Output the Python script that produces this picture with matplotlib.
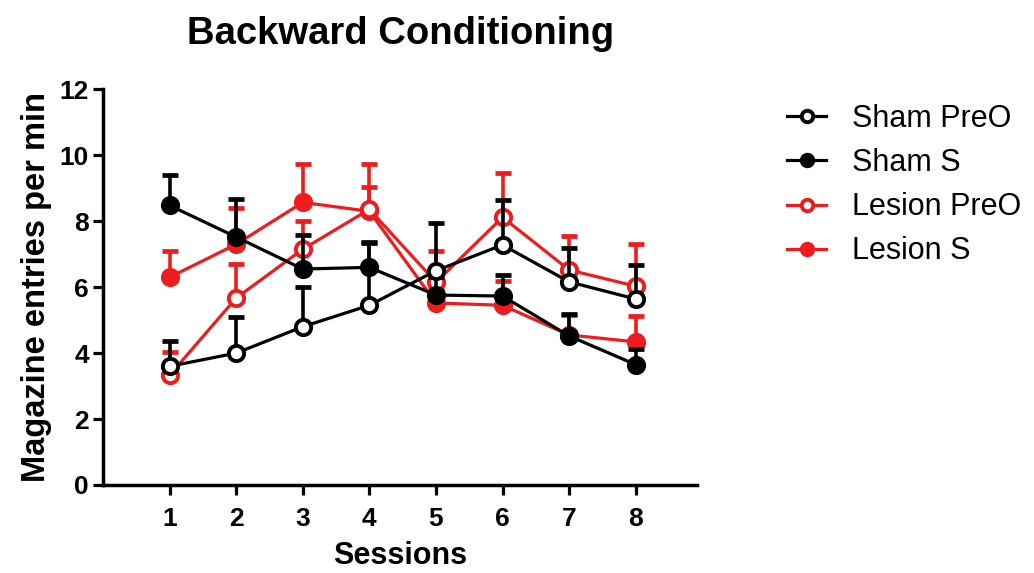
import numpy as np
import matplotlib
matplotlib.use("Agg")
import matplotlib.pyplot as plt

plt.rcParams['font.family'] = ['Liberation Sans', 'DejaVu Sans']

sessions = [1, 2, 3, 4, 5, 6, 7, 8]

sham_preo = [3.60, 4.00, 4.80, 5.45, 6.50, 7.28, 6.16, 5.64]
sham_preo_sem = [0.76, 1.10, 1.20, 1.88, 1.44, 1.37, 1.02, 1.03]

sham_s = [8.48, 7.52, 6.55, 6.60, 5.76, 5.73, 4.52, 3.65]
sham_s_sem = [0.92, 1.15, 1.03, 0.76, 0.54, 0.63, 0.68, 0.47]

lesion_preo = [3.33, 5.67, 7.15, 8.36, 6.15, 8.12, 6.52, 6.03]
lesion_preo_sem = [0.70, 1.03, 0.85, 1.37, 0.95, 1.33, 1.03, 1.27]

lesion_s = [6.30, 7.30, 8.57, 8.30, 5.52, 5.45, 4.55, 4.34]
lesion_s_sem = [0.80, 1.10, 1.16, 0.73, 0.38, 0.75, 0.60, 0.79]

RED = "#ee1c1c"
BLACK = "#000000"

# (label, means, sem, colour, open marker?)
groups = [
    ("Lesion S", lesion_s, lesion_s_sem, RED, False),
    ("Lesion PreO", lesion_preo, lesion_preo_sem, RED, True),
    ("Sham S", sham_s, sham_s_sem, BLACK, False),
    ("Sham PreO", sham_preo, sham_preo_sem, BLACK, True),
]

fig = plt.figure(figsize=(10.34, 5.73), dpi=100)
ax = fig.add_axes([0.0996, 0.1536, 0.5745, 0.6905])

handles = {}
z = 3
for label, y, sem, col, is_open in groups:
    y = np.array(y)
    top = y + np.array(sem)
    # upper error bars only, with a cap
    ax.vlines(sessions, y, top, color=col, lw=2.6, zorder=z)
    ax.plot(sessions, top, ls='none', marker='_', ms=11, mew=3.4, color=col, zorder=z)
    h, = ax.plot(sessions, y, color=col, lw=2.3, marker='o', ms=11,
                 mfc='white' if is_open else col, mec=col, mew=2.8,
                 zorder=z + 1, label=label)
    handles[label] = h
    z += 2

ax.set_xlim(0, 8.92)
ax.set_ylim(0, 12)
ax.set_xticks(sessions)
ax.set_yticks([0, 2, 4, 6, 8, 10, 12])
for s in ['top', 'right']:
    ax.spines[s].set_visible(False)
for s in ['left', 'bottom']:
    ax.spines[s].set_linewidth(2.5)
ax.tick_params(width=2.3, length=7, labelsize=19)
ax.tick_params(axis='x', pad=9)
ax.tick_params(axis='y', pad=3)
for t in ax.get_xticklabels() + ax.get_yticklabels():
    t.set_fontweight('bold')

ax.set_xlabel("Sessions", fontsize=22, fontweight='bold', labelpad=7)
ax.set_ylabel("Magazine entries per min", fontsize=23.5, fontweight='bold', labelpad=6)
fig.text(0.387, 0.94, "Backward Conditioning", fontsize=27.5, fontweight='bold',
         ha='center', va='center')

order = ["Sham PreO", "Sham S", "Lesion PreO", "Lesion S"]
ax.legend([handles[k] for k in order], order, loc='upper left',
          bbox_to_anchor=(0.746, 0.845), bbox_transform=fig.transFigure,
          frameon=False, fontsize=22, handlelength=1.3, handletextpad=0.85,
          labelspacing=0.46, borderpad=0, markerscale=0.75)

fig.savefig("out.png", dpi=100)
